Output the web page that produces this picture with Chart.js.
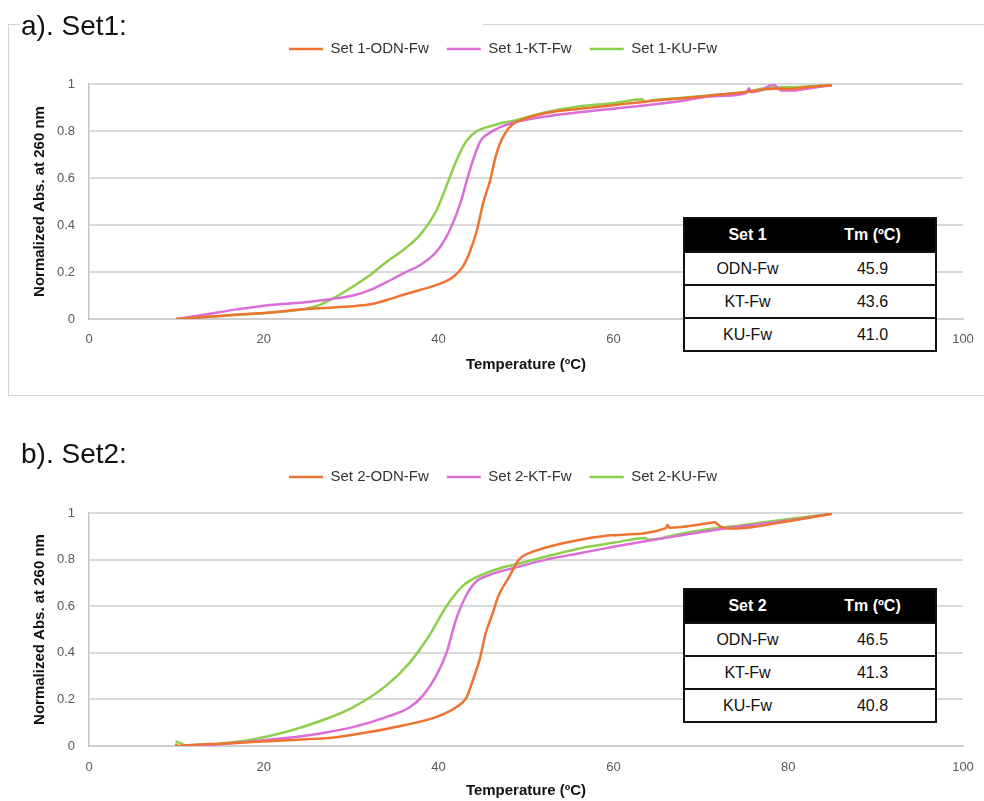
<!DOCTYPE html>
<html>
<head>
<meta charset="utf-8">
<script src="https://cdn.jsdelivr.net/npm/chart.js@4.4.1/dist/chart.umd.min.js"></script>
<style>
  html,body{margin:0;padding:0;background:#fff;width:984px;height:801px;overflow:hidden;position:relative;font-family:'Liberation Sans',Arial,sans-serif;}
  .box{position:absolute;left:8px;top:24px;width:1000px;height:372px;border:1px solid #d4d4d4;box-sizing:border-box;z-index:0;}
  canvas{position:absolute;z-index:1;}
  .ttl{position:absolute;left:20px;height:30px;line-height:36px;font-size:28px;color:#111;background:#fff;z-index:3;white-space:nowrap;overflow:visible;padding-left:1px;}
  .tbl{position:absolute;width:254px;border:2px solid #111;box-sizing:border-box;background:#fff;font-size:16px;color:#111;z-index:2;}
  .tbl .hd{height:32px;background:#000;color:#fff;font-weight:bold;display:flex;}
  .tbl .rw{height:33px;border-top:2px solid #111;box-sizing:border-box;display:flex;}
  .tbl span{flex:1;display:flex;align-items:center;justify-content:center;}
</style>
</head>
<body>
<div class="box"></div>
<div class="ttl" id="t1" style="top:8px;width:462px;">a). Set1:</div>
<div class="ttl" id="t2" style="top:436px;width:200px;">b). Set2:</div>
<canvas id="c1" width="990" height="372" style="left:8px;top:24px;"></canvas>
<canvas id="c2" width="990" height="400" style="left:8px;top:420px;"></canvas>
<div class="tbl" id="tb1" style="left:683px;top:217px;"></div>
<div class="tbl" id="tb2" style="left:683px;top:588px;"></div>
<script>
// ---------- DATA ----------
const seriesNames1 = ['Set 1-ODN-Fw', 'Set 1-KT-Fw', 'Set 1-KU-Fw'];
const seriesNames2 = ['Set 2-ODN-Fw', 'Set 2-KT-Fw', 'Set 2-KU-Fw'];
const xTicks = [0, 20, 40, 60, 80, 100];
const yTicks = [0, 0.2, 0.4, 0.6, 0.8, 1];

// Set 1
const s1OdnT = [10, 12, 15, 18, 20.7, 24.5, 28.3, 32.2, 34.1, 36, 37.9, 39.8, 41.7, 42.8, 43.6, 44.4, 45.1, 45.9, 46.5, 47, 47.6, 48.4, 49.5, 52.3, 56.2, 60, 63.8, 67.6, 71.4, 75.2, 78.3, 80, 82.5, 85];
const s1OdnV = [0, 0.005, 0.013, 0.021, 0.028, 0.041, 0.05, 0.063, 0.081, 0.103, 0.124, 0.145, 0.18, 0.224, 0.288, 0.38, 0.494, 0.59, 0.687, 0.745, 0.79, 0.826, 0.848, 0.877, 0.895, 0.91, 0.926, 0.938, 0.952, 0.966, 0.98, 0.979, 0.988, 0.995];
const s1KtT = [10, 13, 16.9, 20.7, 24.5, 27.6, 30.2, 32.2, 34.1, 36, 37.9, 39.8, 41.3, 42.5, 43.6, 44.8, 45.9, 47, 48.5, 52.3, 56.2, 60, 63.8, 67.6, 71.4, 75.2, 75.5, 75.8, 77, 78.3, 79.2, 80.5, 83, 85];
const s1KtV = [0, 0.017, 0.041, 0.06, 0.07, 0.084, 0.1, 0.124, 0.158, 0.195, 0.23, 0.288, 0.38, 0.494, 0.637, 0.758, 0.793, 0.815, 0.835, 0.862, 0.88, 0.895, 0.91, 0.927, 0.948, 0.962, 0.982, 0.965, 0.975, 0.998, 0.972, 0.972, 0.985, 0.995];
const s1KuT = [10, 15, 20.7, 24.5, 26.4, 28.3, 30.2, 32.2, 34.1, 36, 37.9, 39.8, 40.9, 42.1, 43.2, 44.4, 45.9, 47, 48.5, 52.3, 56.2, 60, 63.3, 63.6, 63.8, 67.6, 71.4, 75.2, 78.3, 80, 82.5, 85];
const s1KuV = [0, 0.013, 0.027, 0.041, 0.06, 0.095, 0.138, 0.188, 0.245, 0.295, 0.359, 0.466, 0.566, 0.68, 0.758, 0.8, 0.82, 0.832, 0.843, 0.88, 0.905, 0.918, 0.935, 0.922, 0.926, 0.94, 0.953, 0.966, 0.986, 0.986, 0.99, 0.995];

// Set 2
const s2OdnT = [9.9, 10.1, 12, 15, 18.7, 24.4, 28.3, 32.1, 35.9, 39.7, 42, 43.2, 43.9, 44.7, 45.4, 46.2, 46.8, 48.1, 49.2, 50.8, 54.2, 59.9, 66, 66.2, 66.4, 71.2, 71.6, 72.2, 73.7, 76, 80, 85];
const s2OdnV = [0.01, 0, 0.005, 0.01, 0.017, 0.028, 0.038, 0.06, 0.088, 0.124, 0.166, 0.209, 0.28, 0.372, 0.486, 0.57, 0.64, 0.728, 0.8, 0.834, 0.87, 0.905, 0.935, 0.948, 0.937, 0.958, 0.96, 0.943, 0.933, 0.94, 0.965, 0.997];
const s2KtT = [10.6, 14.9, 18.7, 22.5, 26.3, 30.2, 34, 36.7, 38.2, 39.7, 40.9, 42, 43.2, 44.3, 45.8, 47, 48.5, 52.3, 56.1, 60, 63.8, 67.6, 71.4, 75.2, 79, 82.8, 85];
const s2KtV = [0, 0.008, 0.02, 0.034, 0.053, 0.081, 0.124, 0.166, 0.216, 0.3, 0.4, 0.543, 0.649, 0.706, 0.734, 0.749, 0.763, 0.8, 0.827, 0.855, 0.88, 0.903, 0.926, 0.945, 0.962, 0.983, 0.998];
const s2KuT = [9.9, 10.5, 11, 14.9, 18.7, 22.5, 26.3, 30.2, 34, 36.7, 38.9, 40.9, 42.8, 44.3, 47, 48.5, 52.3, 56.1, 60, 63.7, 63.9, 67.6, 71.4, 75.2, 79, 82, 85];
const s2KuV = [0.02, 0.012, 0.003, 0.01, 0.028, 0.06, 0.105, 0.166, 0.259, 0.358, 0.472, 0.6, 0.688, 0.724, 0.763, 0.777, 0.813, 0.848, 0.872, 0.893, 0.885, 0.91, 0.933, 0.95, 0.969, 0.983, 0.997];

// Tables
const tableHead1 = ['Set 1', 'Tm (ºC)'];
const tableHead2 = ['Set 2', 'Tm (ºC)'];
const tableNames = ['ODN-Fw', 'KT-Fw', 'KU-Fw'];
const tm1 = ['45.9', '43.6', '41.0'];
const tm2 = ['46.5', '41.3', '40.8'];

// ---------- STYLE ----------
const colors = ['#EE7330', '#DA6ED6', '#8DCF4C'];
const FONT = "'Liberation Sans', Arial, sans-serif";

function fillTable(id, head, names, vals) {
  const el = document.getElementById(id);
  let h = '<div class="hd"><span>' + head[0] + '</span><span>' + head[1] + '</span></div>';
  names.forEach((n, i) => { h += '<div class="rw"><span>' + n + '</span><span>' + vals[i] + '</span></div>'; });
  el.innerHTML = h;
}
fillTable('tb1', tableHead1, tableNames, tm1);
fillTable('tb2', tableHead2, tableNames, tm2);

function pts(T, V) { return T.map((t, i) => ({ x: t, y: V[i] })); }

function makeChart(id, names, series, tgt) {
  const st = { gap: 0 };
  const canvas = document.getElementById(id);
  const W = canvas.width, H = canvas.height;
  const datasets = series.map((s, i) => ({
    label: names[i],
    data: pts(s[0], s[1]),
    borderColor: colors[i],
    backgroundColor: colors[i],
    borderWidth: 2.5,
    pointRadius: 0,
    pointHoverRadius: 0,
    fill: false,
    cubicInterpolationMode: 'monotone',
    pointStyle: 'line'
  }));
  const cfg = {
    type: 'line',
    data: { datasets },
    options: {
      responsive: false,
      animation: false,
      events: [],
      layout: { padding: { top: 0, left: 0, right: 0, bottom: 0 } },
      plugins: {
        legend: {
          position: 'top',
          labels: {
            usePointStyle: true,
            pointStyle: 'line',
            pointStyleWidth: 34,
            boxHeight: 15,
            padding: 18,
            color: '#333',
            font: { family: FONT, size: 15 }
          }
        },
        tooltip: { enabled: false }
      },
      scales: {
        x: {
          type: 'linear', position: 'bottom', min: 0, max: 100,
          afterBuildTicks: s => { s.ticks = xTicks.map(v => ({ value: v })); },
          afterFit: s => { s.height = H - tgt.bottom; },
          grid: { display: false, drawTicks: false },
          border: { display: true, color: '#cfcfcf', width: 2 },
          ticks: { padding: tgt.xPad, color: '#595959', font: { family: FONT, size: 13 }, callback: v => String(v) },
          title: { display: true, text: 'Temperature (ºC)', color: '#111', font: { family: FONT, size: 15, weight: 'bold' }, padding: { top: 0, bottom: H - tgt.xTitle - 9 } }
        },
        xT: {
          type: 'linear', position: 'top', display: true,
          grid: { display: false, drawTicks: false }, border: { display: false },
          ticks: { display: false },
          afterFit: s => { s.height = st.gap; }
        },
        y: {
          type: 'linear', position: 'left', min: 0, max: 1,
          afterBuildTicks: s => { s.ticks = yTicks.map(v => ({ value: v })); },
          afterFit: s => { s.width = tgt.left; },
          grid: { color: '#d9d9d9', lineWidth: 2, drawTicks: false },
          border: { display: true, color: '#c4c4c4', width: 1.5 },
          ticks: { padding: 14, color: '#595959', font: { family: FONT, size: 13 }, callback: v => String(+(+v).toFixed(1)) },
          title: { display: true, text: 'Normalized Abs. at 260 nm', color: '#111', font: { family: FONT, size: 15, weight: 'bold' }, padding: { top: tgt.yTitle - 9, bottom: 0 } }
        },
        yR: {
          type: 'linear', position: 'right', display: true,
          grid: { display: false, drawTicks: false }, border: { display: false },
          ticks: { display: false },
          afterFit: s => { s.width = W - tgt.right; }
        }
      }
    }
  };
  const ch = new Chart(canvas, cfg);
  // align legend and chart area to target positions
  const hb = ch.legend.legendHitBoxes[0];
  const cy = hb.top + hb.height / 2;
  const dPad = tgt.legendY - cy;
  const ct = ch.chartArea.top;
  ch.options.layout.padding.top = dPad;
  st.gap = tgt.top - ct - dPad;
  ch.update();
  return ch;
}

makeChart('c1', seriesNames1, [[s1OdnT, s1OdnV], [s1KtT, s1KtV], [s1KuT, s1KuV]],
  { left: 81, right: 955, top: 60, bottom: 295, legendY: 25, xPad: 13, xTitle: 341, yTitle: 32 });
makeChart('c2', seriesNames2, [[s2OdnT, s2OdnV], [s2KtT, s2KtV], [s2KuT, s2KuV]],
  { left: 81, right: 955, top: 93, bottom: 326, legendY: 57, xPad: 14, xTitle: 371, yTitle: 32 });
</script>
</body>
</html>
